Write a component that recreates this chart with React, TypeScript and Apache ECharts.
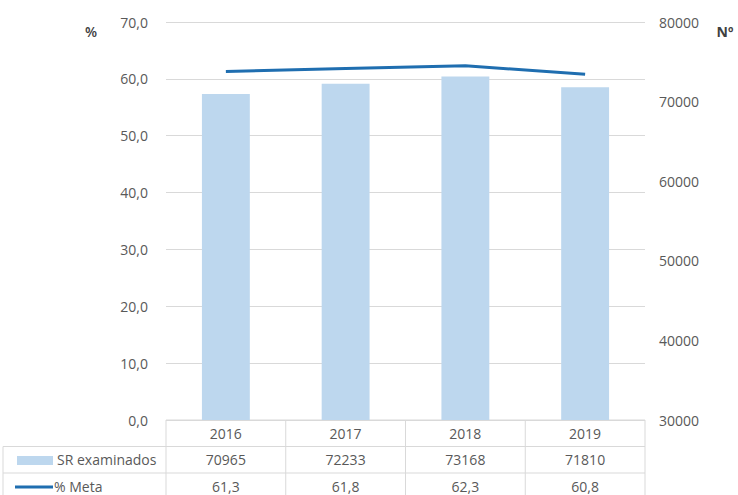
import React, { useEffect, useRef } from "react";
import * as echarts from "echarts";

const years = ["2016", "2017", "2018", "2019"];
const srExaminados = [70965, 72233, 73168, 71810];
const pctMeta = [61.3, 61.8, 62.3, 60.8];
const barName = "SR examinados";
const lineName = "% Meta";

const W = 738;
const H = 495;
const GL = 166;
const GR = 645;
const GT = 22;
const GB = 420;
const ROW_H = 26.5;

const BAR_COLOR = "#bdd7ee";
const LINE_COLOR = "#1f6eb0";
const GRID_COLOR = "#d9d9d9";
const TXT = "#595959";
const FONT = "'Open Sans', 'Noto Sans', sans-serif";

const fmt = (v: number) => v.toFixed(1).replace(".", ",");

export default function App() {
  const ref = useRef<HTMLDivElement>(null);
  useEffect(() => {
    if (!ref.current) return;
    const chart = echarts.init(ref.current, undefined, { renderer: "svg" });
    const colW = (GR - GL) / years.length;
    const graphics: any[] = [];
    const line = (x1: number, y1: number, x2: number, y2: number) =>
      graphics.push({
        type: "line",
        shape: { x1, y1, x2, y2 },
        style: { stroke: GRID_COLOR, lineWidth: 1 },
        silent: true,
      });
    // table horizontal lines
    line(GL, GB, GR, GB);
    line(3, GB + ROW_H, GR, GB + ROW_H);
    line(3, GB + 2 * ROW_H, GR, GB + 2 * ROW_H);
    // verticals
    for (let i = 0; i <= years.length; i++) {
      line(GL + i * colW, GB, GL + i * colW, H);
    }
    line(3, GB + ROW_H, 3, H);
    const txt = (text: string, x: number, y: number, align: string = "center") =>
      graphics.push({
        type: "text",
        x,
        y,
        style: {
          text,
          fill: TXT,
          font: `14px ${FONT}`,
          textAlign: align,
          textVerticalAlign: "middle",
        },
        silent: true,
      });
    years.forEach((y, i) => {
      const cx = GL + (i + 0.5) * colW;
      txt(y, cx, GB + ROW_H / 2);
      txt(String(srExaminados[i]), cx, GB + ROW_H * 1.5);
      txt(fmt(pctMeta[i]), cx, GB + ROW_H * 2.5);
    });
    // legend keys
    graphics.push({
      type: "rect",
      shape: { x: 17, y: 456, width: 36, height: 9 },
      style: { fill: BAR_COLOR },
      silent: true,
    });
    txt(barName, 57, GB + ROW_H * 1.5, "left");
    graphics.push({
      type: "line",
      shape: { x1: 15, y1: 487, x2: 53, y2: 487 },
      style: { stroke: LINE_COLOR, lineWidth: 3 },
      silent: true,
    });
    txt(lineName, 54, GB + ROW_H * 2.5, "left");
    // axis unit labels
    graphics.push({
      type: "text",
      x: 91,
      y: 31,
      style: { text: "%", fill: "#404040", font: `600 14px ${FONT}`, textAlign: "center", textVerticalAlign: "middle" },
    });
    graphics.push({
      type: "text",
      x: 725,
      y: 31,
      style: { text: "Nº", fill: "#404040", font: `bold 14px ${FONT}`, textAlign: "center", textVerticalAlign: "middle" },
    });

    chart.setOption({
      animation: false,
      backgroundColor: "#ffffff",
      grid: { left: GL, right: W - GR, top: GT, bottom: H - GB, containLabel: false },
      xAxis: {
        type: "category",
        data: years,
        axisLine: { show: false },
        axisTick: { show: false },
        axisLabel: { show: false },
      },
      yAxis: [
        {
          type: "value",
          min: 0,
          max: 70,
          interval: 10,
          axisLine: { show: false },
          axisTick: { show: false },
          splitLine: { lineStyle: { color: GRID_COLOR, width: 1 } },
          axisLabel: {
            formatter: (v: number) => fmt(v),
            color: TXT,
            fontSize: 14,
            fontFamily: FONT,
            margin: 18,
          },
        },
        {
          type: "value",
          min: 30000,
          max: 80000,
          interval: 10000,
          position: "right",
          axisLine: { show: false },
          axisTick: { show: false },
          splitLine: { show: false },
          axisLabel: {
            formatter: (v: number) => String(v),
            color: TXT,
            fontSize: 14,
            fontFamily: FONT,
            margin: 14,
          },
        },
      ],
      series: [
        {
          name: barName,
          type: "bar",
          yAxisIndex: 1,
          data: srExaminados,
          barWidth: "40%",
          itemStyle: { color: BAR_COLOR },
        },
        {
          name: lineName,
          type: "line",
          yAxisIndex: 0,
          data: pctMeta,
          symbol: "none",
          lineStyle: { color: LINE_COLOR, width: 3 },
        },
      ],
      graphic: graphics,
    });
    return () => chart.dispose();
  }, []);
  return <div ref={ref} style={{ width: W, height: H, position: "absolute", left: 0, top: 0 }} />;
}
